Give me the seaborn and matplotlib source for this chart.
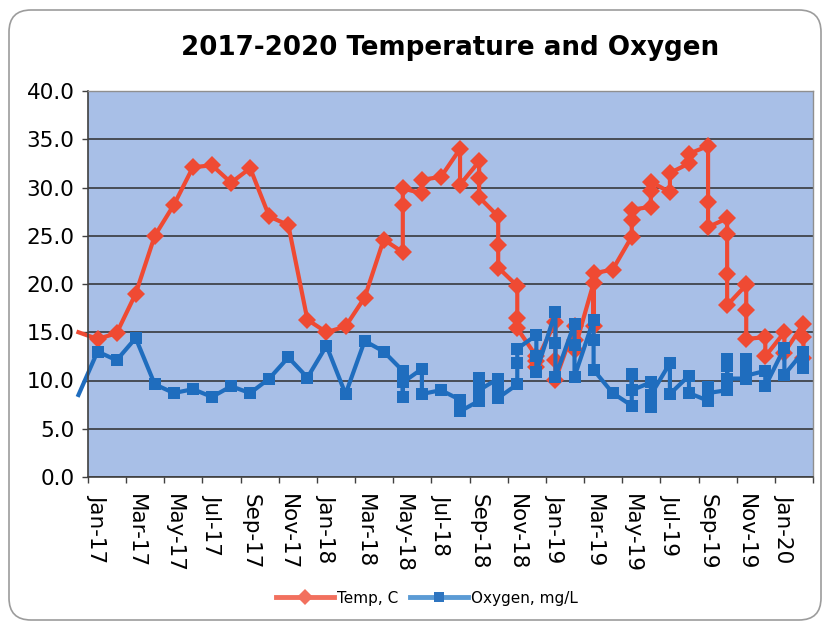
import numpy as np
import pandas as pd
import matplotlib
matplotlib.use("Agg")
import matplotlib.pyplot as plt
import seaborn as sns
from matplotlib.lines import Line2D
from matplotlib.patches import FancyBboxPatch
from matplotlib.ticker import FormatStrFormatter
from matplotlib.transforms import IdentityTransform

# Field samples: month of each sample, water temperature and dissolved oxygen
sample_month = [
    "2016-12",
    "2017-01", "2017-02", "2017-03", "2017-04", "2017-05", "2017-06",
    "2017-07", "2017-08", "2017-09", "2017-10", "2017-11", "2017-12",
    "2018-01", "2018-02", "2018-03", "2018-04",
    "2018-05", "2018-05", "2018-05", "2018-06", "2018-06", "2018-07",
    "2018-08", "2018-08", "2018-09", "2018-09", "2018-09",
    "2018-10", "2018-10", "2018-10", "2018-11", "2018-11", "2018-11",
    "2018-12", "2018-12", "2018-12",
    "2019-01", "2019-01", "2019-01", "2019-02", "2019-02", "2019-02",
    "2019-03", "2019-03", "2019-03", "2019-04",
    "2019-05", "2019-05", "2019-05", "2019-06", "2019-06", "2019-06",
    "2019-07", "2019-07", "2019-08", "2019-08",
    "2019-09", "2019-09", "2019-09",
    "2019-10", "2019-10", "2019-10", "2019-10",
    "2019-11", "2019-11", "2019-11", "2019-11",
    "2019-12", "2019-12", "2020-01", "2020-01",
    "2020-02", "2020-02", "2020-02",
]

temp_c = [
    15.0,
    14.3, 14.9, 19.0, 25.0, 28.2, 32.1,
    32.3, 30.5, 32.0, 27.0, 26.1, 16.3,
    15.0, 15.6, 18.6, 24.6,
    23.3, 28.2, 29.9, 29.4, 30.8, 31.1,
    34.0, 30.3, 32.7, 31.0, 29.0,
    27.0, 24.0, 21.7, 19.8, 16.5, 15.4,
    12.5, 11.4, 12.0,
    16.1, 12.1, 10.1, 15.6, 14.2, 13.2,
    20.1, 15.6, 21.1, 21.5,
    24.9, 26.6, 27.7, 28.0, 29.6, 30.6,
    29.5, 31.5, 32.5, 33.5,
    34.3, 28.5, 25.9,
    26.8, 25.2, 21.0, 17.8,
    19.9, 20.0, 17.3, 14.3,
    14.5, 12.5, 15.0, 12.9,
    15.9, 14.5, 12.3,
]

oxygen_mgl = [
    8.5,
    13.0, 12.1, 14.4, 9.6, 8.7, 9.1,
    8.3, 9.4, 8.7, 10.2, 12.4, 10.3,
    13.6, 8.6, 14.1, 13.0,
    11.0, 8.3, 9.8, 11.2, 8.6, 9.0,
    8.0, 6.8, 7.9, 10.3, 9.0,
    10.2, 9.0, 8.2, 9.6, 11.8, 13.3,
    14.7, 12.5, 10.9,
    17.1, 13.9, 10.4, 15.9, 13.7, 10.4,
    16.3, 14.2, 11.1, 8.7,
    7.4, 10.7, 9.0, 9.8, 7.3, 8.5,
    11.8, 8.6, 10.5, 8.7,
    7.9, 9.3, 8.7,
    9.0, 12.2, 11.5, 10.2,
    10.2, 12.2, 11.5, 10.5,
    11.0, 9.4, 13.4, 10.6,
    13.0, 11.3, 11.8,
]

series_names = ["Temp, C", "Oxygen, mg/L"]
axis_start = "2017-01"
axis_end = "2020-02"
tick_labels = [
    "Jan-17", "Mar-17", "May-17", "Jul-17", "Sep-17", "Nov-17",
    "Jan-18", "Mar-18", "May-18", "Jul-18", "Sep-18", "Nov-18",
    "Jan-19", "Mar-19", "May-19", "Jul-19", "Sep-19", "Nov-19",
    "Jan-20",
]

RED = "#EF4A33"
BLUE = "#1F6DBE"


def month_offset(ts, origin):
    return (ts.year - origin.year) * 12 + (ts.month - origin.month)


origin = pd.Timestamp(axis_start + "-01")
end = pd.Timestamp(axis_end + "-01")
positions = [month_offset(pd.Timestamp(m + "-01"), origin) for m in sample_month]
label_pos = [month_offset(pd.to_datetime(t, format="%b-%y"), origin) for t in tick_labels]
n_months = month_offset(end, origin) + 1

n = len(sample_month)
df = pd.DataFrame({
    "month_pos": positions * 2,
    "value": temp_c + oxygen_mgl,
    "series": [series_names[0]] * n + [series_names[1]] * n,
})

fig = plt.figure(figsize=(8.25, 6.23), dpi=100)
ax = fig.add_axes([88 / 825, 1 - 477 / 623, (813 - 88) / 825, (477 - 91) / 623])
ax.set_facecolor("#A8BFE7")

sns.lineplot(
    data=df, x="month_pos", y="value", hue="series", style="series",
    hue_order=series_names, style_order=series_names,
    palette=[RED, BLUE],
    markers={series_names[0]: "D", series_names[1]: "s"},
    dashes=False, estimator=None, sort=False, legend=False,
    linewidth=3.0, markeredgewidth=0, ax=ax,
)

# the opening December sample only carries the line into the chart
for line, size in zip(ax.lines, (9.5, 8.0)):
    line.set_clip_on(False)
    line.set_markevery(slice(1, None))
    line.set_markersize(size)

ax.set_xlim(-0.5, n_months - 0.5)
ax.set_ylim(0, 40)
ax.set_xlabel("")
ax.set_ylabel("")

ax.set_yticks(np.arange(0, 41, 5))
ax.yaxis.set_major_formatter(FormatStrFormatter("%.1f"))
ax.tick_params(axis="y", direction="out", length=4.3, width=1.0,
               color="#404040", pad=5.5, labelsize=15.5)
ax.grid(axis="y", color="#2e2e2e", linewidth=1.1)
ax.grid(axis="x", visible=False)
ax.set_axisbelow(True)

ax.set_xticks(label_pos)
ax.set_xticklabels(tick_labels, rotation=270, ha="center", va="top")
ax.tick_params(axis="x", which="major", length=0, pad=12, labelsize=15.5)
ax.set_xticks(np.arange(-0.5, n_months, 2), minor=True)
ax.tick_params(axis="x", which="minor", length=4, width=1.0,
               direction="out", color="#404040")

for side in ("left", "bottom"):
    ax.spines[side].set_color("#404040")
    ax.spines[side].set_linewidth(1.2)
for side in ("top", "right"):
    ax.spines[side].set_color("#8f8f8f")
    ax.spines[side].set_linewidth(1.0)

fig.text(450 / 825, 1 - 55 / 623, "2017-2020 Temperature and Oxygen",
         ha="center", va="baseline", fontsize=18.8, fontweight="bold")

handles = [
    Line2D([], [], color="#F2705E", lw=3.5, marker="D", markersize=8,
           markerfacecolor="#F2705E", markeredgewidth=0),
    Line2D([], [], color="#5B9BD5", lw=3.5, marker="s", markersize=7,
           markerfacecolor="#2E75C0", markeredgewidth=0),
]
fig.legend(handles, series_names, loc="center",
           bbox_to_anchor=(427 / 825, 1 - 598 / 623), ncol=2, frameon=False,
           fontsize=11, handlelength=3.8, handletextpad=0.2,
           columnspacing=0.8, numpoints=1)

fig.add_artist(FancyBboxPatch(
    (9, 3), 812, 610, boxstyle="round,pad=0,rounding_size=22",
    transform=IdentityTransform(), fill=False, edgecolor="#9c9c9c",
    linewidth=1.2,
))

fig.savefig("out.png", dpi=100)
